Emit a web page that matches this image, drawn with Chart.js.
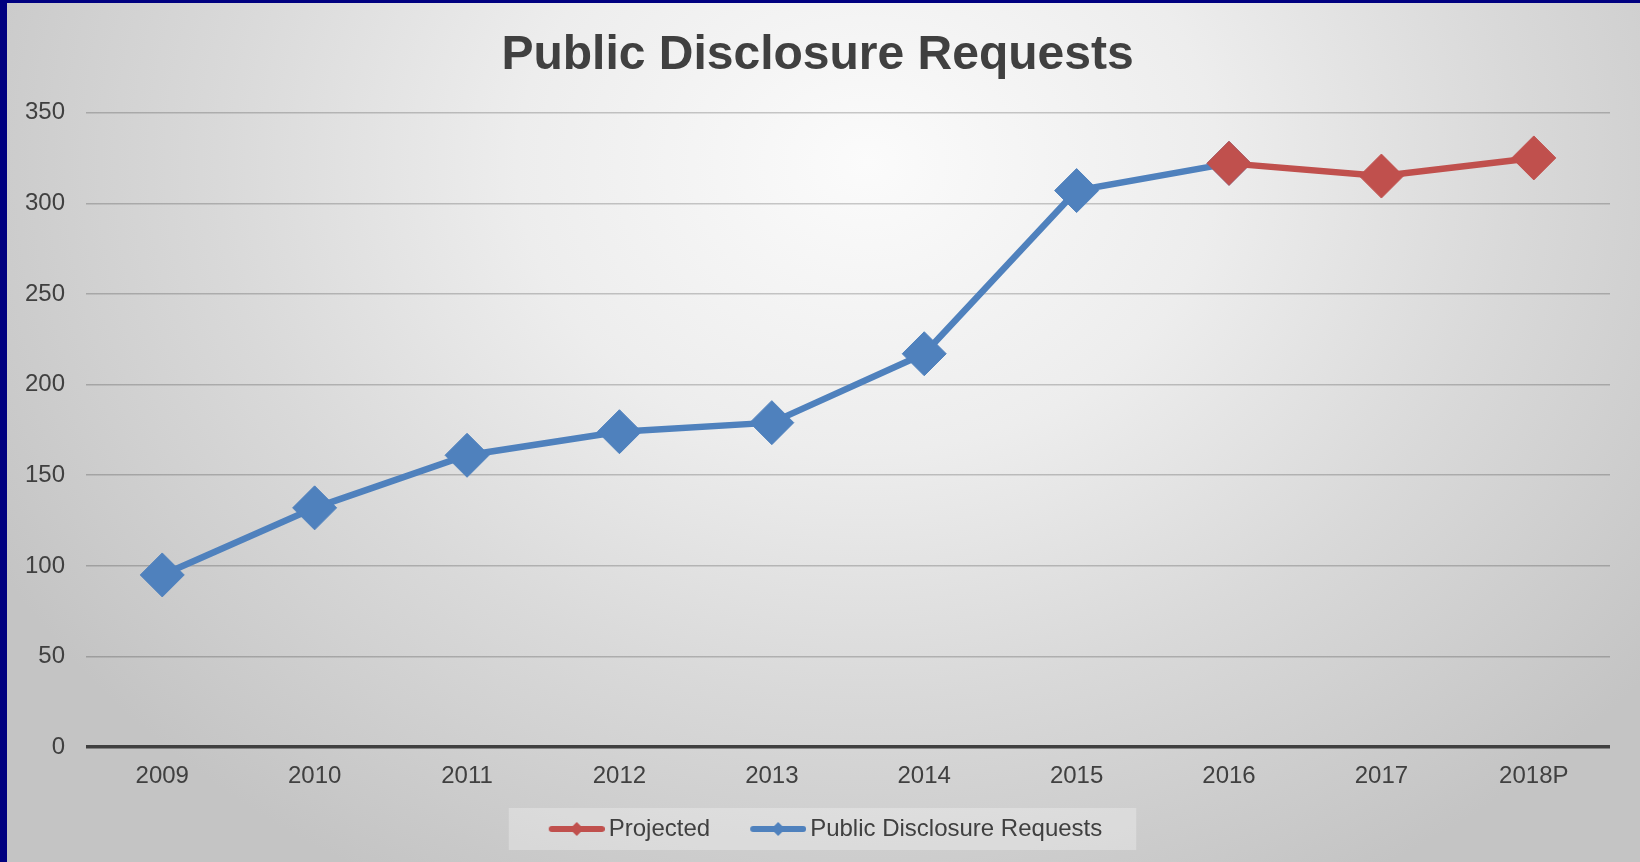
<!DOCTYPE html>
<html>
<head>
<meta charset="utf-8">
<title>Public Disclosure Requests</title>
<script src="https://cdn.jsdelivr.net/npm/chart.js@4/dist/chart.umd.min.js"></script>
<style>
  html, body { margin: 0; padding: 0; }
  body { width: 1640px; height: 862px; background: #000080; overflow: hidden; position: relative; }
  #frame {
    position: absolute; left: 7px; top: 3px; width: 1633px; height: 859px;
    background: radial-gradient(ellipse 1000px 820px at 860px 160px, #fbfbfb 0%, #ededed 35%, #d9d9d9 65%, #c4c4c4 100%);
  }
  #chart { display: block; }
</style>
</head>
<body>
<div id="frame"><canvas id="chart" width="1633" height="859"></canvas></div>
<script>
// Yearly counts; 2018P is a projection.
const years = ['2009', '2010', '2011', '2012', '2013', '2014', '2015', '2016', '2017', '2018P'];
const requests = [95, 132, 161, 174, 179, 217, 307, 322, null, null];
const projected = [null, null, null, null, null, null, null, 322, 315, 325];
const yTicks = [0, 50, 100, 150, 200, 250, 300, 350];

const BLUE = '#4F81BD';
const RED = '#C0504D';
const TEXT = '#404040';
const FONT = "'Liberation Sans', Arial, sans-serif";
const TICK_SIZE = 24;
const X_PAD = 15;
const Y_PAD = 21;

// Legend swatch: a short thick line with a small diamond in the middle.
const SWATCH_SHIFT = 16;   // line starts this far right of the legend item start
const SWATCH_W = 64;       // legend box width reserved by Chart.js
function makeSwatch(color) {
  const c = document.createElement('canvas');
  const half = Math.max(SWATCH_W / 2 - SWATCH_SHIFT, SWATCH_SHIFT + 56 - SWATCH_W / 2);
  c.width = half * 2;
  c.height = 18;
  const g = c.getContext('2d');
  const x0 = half - (SWATCH_W / 2 - SWATCH_SHIFT);
  g.strokeStyle = color;
  g.lineWidth = 6;
  g.lineCap = 'round';
  g.beginPath();
  g.moveTo(x0 + 3, 9);
  g.lineTo(x0 + 56 - 3, 9);
  g.stroke();
  g.fillStyle = color;
  const cx = x0 + 28;
  g.beginPath();
  g.moveTo(cx - 7, 9); g.lineTo(cx, 2); g.lineTo(cx + 7, 9); g.lineTo(cx, 16);
  g.closePath();
  g.fill();
  return c;
}
const swatches = { Projected: makeSwatch(RED), 'Public Disclosure Requests': makeSwatch(BLUE) };

// Light panel behind the legend entries.
const legendPanel = {
  id: 'legendPanel',
  beforeDraw(chart) {
    const boxes = chart.legend && chart.legend.legendHitBoxes;
    if (!boxes || !boxes.length) return;
    const first = boxes[0], last = boxes[boxes.length - 1];
    const left = first.left + SWATCH_SHIFT - 40;
    const right = last.left + last.width + 34;
    const top = first.top + first.height / 2 - 21;
    const ctx = chart.ctx;
    ctx.save();
    ctx.fillStyle = 'rgba(255,255,255,0.28)';
    ctx.fillRect(left, top, right - left, 42);
    ctx.restore();
  }
};

new Chart(document.getElementById('chart'), {
  type: 'line',
  data: {
    labels: years,
    datasets: [
      {
        label: 'Projected',
        data: projected,
        borderColor: RED,
        backgroundColor: RED,
        borderWidth: 6.5,
        pointStyle: 'rectRot',
        pointRadius: 22,
        pointBorderWidth: 1,
        pointBackgroundColor: RED,
        pointBorderColor: RED,
        tension: 0
      },
      {
        label: 'Public Disclosure Requests',
        data: requests,
        borderColor: BLUE,
        backgroundColor: BLUE,
        borderWidth: 6.5,
        pointStyle: 'rectRot',
        pointRadius: 22,
        pointBorderWidth: 1,
        pointBackgroundColor: BLUE,
        pointBorderColor: BLUE,
        tension: 0
      }
    ]
  },
  options: {
    responsive: false,
    animation: false,
    events: [],
    layout: { autoPadding: false, padding: { left: 18, right: 30, top: 0, bottom: 11 } },
    plugins: {
      title: {
        display: true,
        text: 'Public Disclosure Requests',
        color: TEXT,
        font: { family: FONT, size: 48, weight: 'bold', lineHeight: 1.2 },
        padding: { top: 24, bottom: 28 }
      },
      legend: {
        display: true,
        position: 'bottom',
        labels: {
          usePointStyle: true,
          pointStyleWidth: SWATCH_W,
          boxHeight: 24,
          padding: 24,
          color: TEXT,
          font: { family: FONT, size: TICK_SIZE },
          generateLabels(chart) {
            const items = Chart.defaults.plugins.legend.labels.generateLabels(chart);
            items.forEach(it => { it.pointStyle = swatches[it.text]; it.fontColor = TEXT; });
            return items;
          }
        }
      },
      tooltip: { enabled: false }
    },
    scales: {
      x: {
        offset: true,
        grid: { display: false, drawTicks: false },
        border: { display: false },
        ticks: { color: TEXT, font: { family: FONT, size: TICK_SIZE }, padding: X_PAD, maxRotation: 0 },
        // axis band = label padding + one line of label text, plus a small gap above the legend
        afterFit(scale) { scale.height = X_PAD + TICK_SIZE * 1.2 + 2; }
      },
      y: {
        min: 0,
        max: 350,
        afterBuildTicks(scale) { scale.ticks = yTicks.map(v => ({ value: v })); },
        grid: {
          drawTicks: false,
          color: ctx => ctx.tick && ctx.tick.value === 0 ? '#404040' : 'rgba(0,0,0,0.2)',
          lineWidth: ctx => ctx.tick && ctx.tick.value === 0 ? 3.5 : 1.5
        },
        border: { display: false },
        ticks: { color: TEXT, font: { family: FONT, size: TICK_SIZE }, padding: Y_PAD },
        // axis band = widest label + label padding
        afterFit(scale) {
          const ctx = scale.ctx;
          ctx.save();
          ctx.font = TICK_SIZE + 'px ' + FONT;
          const widest = Math.max(...yTicks.map(v => ctx.measureText(String(v)).width));
          ctx.restore();
          scale.width = widest + Y_PAD;
        }
      }
    }
  },
  plugins: [legendPanel]
});
</script>
</body>
</html>
